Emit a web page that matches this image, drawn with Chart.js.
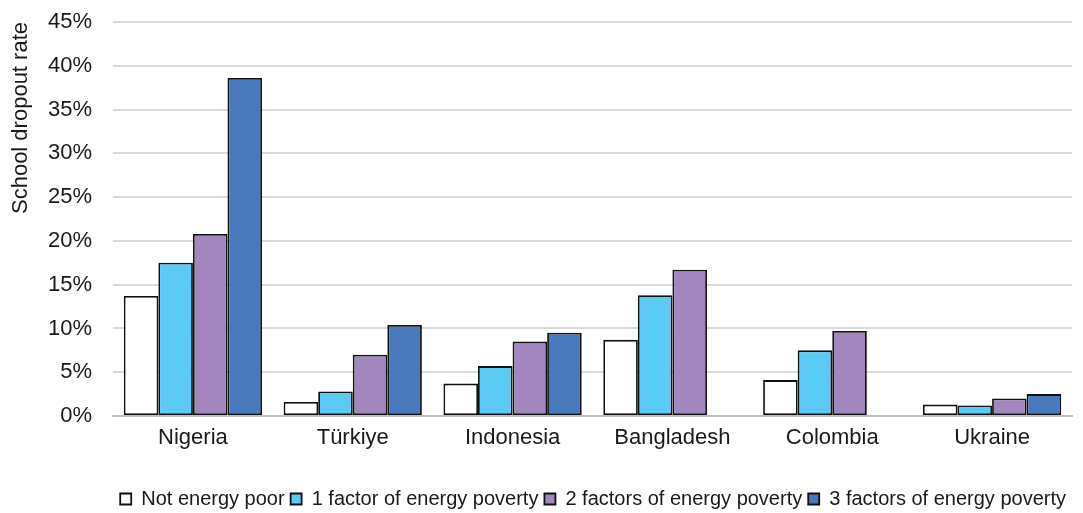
<!DOCTYPE html>
<html>
<head>
<meta charset="utf-8">
<script src="https://cdn.jsdelivr.net/npm/chart.js@4"></script>
<style>
  html, body { margin: 0; padding: 0; background: #fff; }
  #wrap { width: 1083px; height: 513px; }
</style>
</head>
<body>
<div id="wrap"><canvas id="dropoutChart" width="1083" height="513"></canvas></div>
<script>
const countries = ["Nigeria", "Türkiye", "Indonesia", "Bangladesh", "Colombia", "Ukraine"];
const notPoor = [13.7, 1.6, 3.7, 8.7, 4.1, 1.3];
const oneFactor = [17.5, 2.8, 5.7, 13.8, 7.5, 1.2];
const twoFactors = [20.8, 7.0, 8.5, 16.7, 9.7, 2.0];
const threeFactors = [38.6, 10.4, 9.5, null, null, 2.5];
const seriesNames = ["Not energy poor", "1 factor of energy poverty", "2 factors of energy poverty", "3 factors of energy poverty"];
const seriesColors = ["#ffffff", "#5bcbf5", "#a287be", "#4a78bd"];

const family = "'Liberation Sans', Arial, sans-serif";
const textColor = "#1a1a1a";

function makeSet(i, values) {
    return {
        label: seriesNames[i],
        data: values,
        backgroundColor: seriesColors[i],
        borderColor: "#111111",
        borderWidth: 1.8,
        borderSkipped: false,
        categoryPercentage: 0.865,
        barPercentage: 1.0
    };
}

const ctx = document.getElementById("dropoutChart").getContext("2d");
new Chart(ctx, {
    type: "bar",
    data: {
        labels: countries,
        datasets: [
            makeSet(0, notPoor),
            makeSet(1, oneFactor),
            makeSet(2, twoFactors),
            makeSet(3, threeFactors)
        ]
    },
    options: {
        responsive: false,
        animation: false,
        layout: { padding: { left: 6, right: 11, top: 22, bottom: -6 } },
        plugins: {
            tooltip: { enabled: false },
            legend: {
                position: "bottom",
                align: "end",
                labels: {
                    font: { family: family, size: 20, lineHeight: 1 },
                    color: textColor,
                    boxWidth: 11,
                    boxHeight: 11,
                    padding: 6
                }
            }
        },
        scales: {
            x: {
                grid: { display: false, drawTicks: false },
                border: { color: "#bfbfbf", width: 2 },
                ticks: { font: { family: family, size: 22 }, color: textColor, padding: 9, maxRotation: 0 },
                afterFit: (scale) => { scale.height = 67; }
            },
            y: {
                min: 0,
                max: 45,
                ticks: {
                    stepSize: 5,
                    font: { family: family, size: 22 },
                    color: textColor,
                    padding: 21,
                    callback: (v) => v + "%"
                },
                grid: {
                    drawTicks: false,
                    color: "#d9d9d9",
                    lineWidth: 2
                },
                border: { display: false },
                title: {
                    display: true,
                    text: "School dropout rate",
                    align: "end",
                    font: { family: family, size: 22 },
                    color: textColor,
                    padding: { top: 2, bottom: 0 }
                },
                afterFit: (scale) => {
                    scale.width = 107;
                    scale.paddingTop = 0;
                    scale.paddingBottom = 0;
                }
            }
        }
    }
});
</script>
</body>
</html>
